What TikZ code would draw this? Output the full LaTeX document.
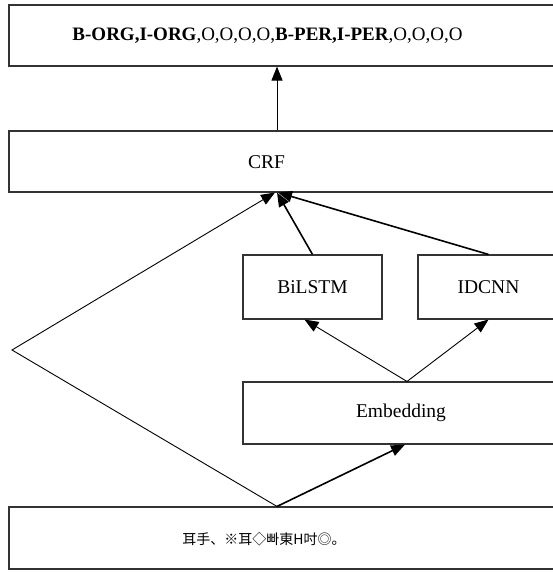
\documentclass[tikz,border=0pt]{standalone}
\usepackage{fontspec}
\setmainfont{Liberation Serif}
\newfontfamily\cjk{Noto Sans CJK SC}
\usetikzlibrary{arrows.meta}
\tikzset{box/.style={draw=black!80, line width=1.1pt, minimum height=61pt, inner sep=0pt},
  heavy/.style={line width=1.6pt}}

\begin{document}
\begin{tikzpicture}[>={Triangle[length=14pt,width=11pt]}, x=1pt, y=-1pt, font=\fontsize{19.5}{22}\selectfont, line width=0.9pt]
\useasboundingbox (0,0) rectangle (553,572);
\clip (0,0) rectangle (553,572);
\node[box, minimum width=550pt, label={[xshift=-16.5pt,font=\fontsize{19}{22}\selectfont]center:{\textbf{B-ORG,I-ORG},O,O,O,O,\textbf{B-PER,I-PER},O,O,O,O}}] (out) at (284,35.5) {};
\node[box, minimum width=550pt, label={[xshift=-17.5pt,yshift=-1pt]center:CRF}] (crf) at (284,161.5) {};
\node[box, minimum width=139pt, minimum height=64pt] (bilstm) at (312.5,287) {BiLSTM};
\node[box, minimum width=141pt, minimum height=64pt] (idcnn) at (488.5,287) {IDCNN};
\node[box, minimum width=316pt, minimum height=62pt] (emb) at (401,413) {Embedding};
\node[box, minimum width=550pt, minimum height=62pt, label={[xshift=-20pt,yshift=-1pt]center:{\cjk\fontsize{14}{16}\selectfont 耳手、※耳◇빠東H吋◎。}}] (inp) at (284,538) {};
\coordinate (turn) at (12,350);

\draw[->] ([xshift=-7pt]crf.north)--([xshift=-7pt]out.south);
\draw[->] ([xshift=-7pt]inp.north)--(turn)--([xshift=-9pt]crf.south);
\draw[->, heavy] ([xshift=-7pt]inp.north)--([xshift=4pt]emb.south);
\draw[->] ([xshift=6pt]emb.north)--([xshift=-8pt]bilstm.south);
\draw[->] ([xshift=6pt]emb.north)--(idcnn.south);
\draw[->, heavy] (bilstm.north)--([xshift=-7pt]crf.south);
\draw[->, heavy] (idcnn.north)--([xshift=-6pt]crf.south);
\end{tikzpicture}
\end{document}
